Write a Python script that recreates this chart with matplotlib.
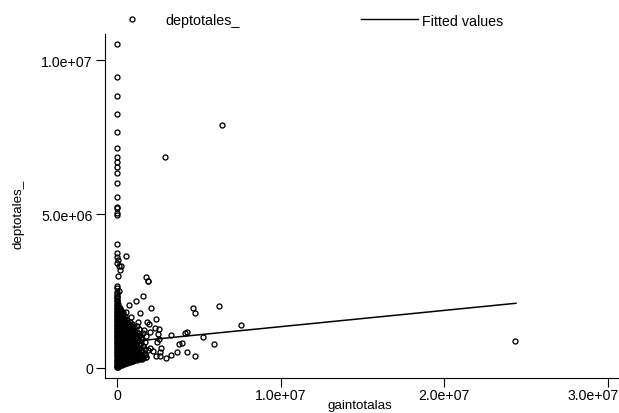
import numpy as np
import matplotlib
matplotlib.use("Agg")
import matplotlib.pyplot as plt
from matplotlib.lines import Line2D
from matplotlib.transforms import ScaledTranslation

plt.rcParams['font.family'] = ['Liberation Sans', 'DejaVu Sans']

# ---------------- data (values in millions) ----------------
cloud_x = (
    [0.01, 0.0, 0.02, 0.01, 0.0, 0.02, 0.01, 0.0, 0.02, 0.01, 0.0, 0.02,
     0.01, 0.0, 0.02, 0.01, 0.0, 0.02, 0.01, 0.0, 0.02, 0.01, 0.0, 0.02,
     0.01, 0.0, 0.02, 0.01, 0.0, 0.02, 0.01, 0.0, 0.02, 0.01, 0.0, 0.02,
     0.01, 0.0, 0.02, 0.01, 0.0, 0.02, 0.01, 0.0, 0.02, 0.01, 0.0, 0.02]
    + [0.05, 0.06, 0.05, 0.06, 0.05, 0.06, 0.05, 0.06, 0.05, 0.06, 0.05, 0.06, 0.05,
       0.06, 0.05, 0.06, 0.05, 0.06, 0.05, 0.06, 0.05, 0.06, 0.05, 0.06, 0.05]
    + [0.09, 0.11, 0.09, 0.11, 0.09, 0.11, 0.09, 0.11, 0.09, 0.11, 0.09, 0.11, 0.09,
       0.11, 0.09, 0.11, 0.09, 0.11, 0.09, 0.11, 0.09, 0.11, 0.09, 0.11, 0.09]
    + [0.15, 0.17, 0.15, 0.17, 0.15, 0.17, 0.15, 0.17, 0.15, 0.17, 0.15,
       0.17, 0.15, 0.17, 0.15, 0.17, 0.15, 0.17, 0.15, 0.17, 0.15, 0.17]
    + [0.21, 0.24, 0.21, 0.24, 0.21, 0.24, 0.21, 0.24, 0.21, 0.24, 0.21, 0.24,
       0.21, 0.24, 0.21, 0.24, 0.21, 0.24, 0.21, 0.24, 0.21, 0.24, 0.21]
    + [0.28, 0.3, 0.28, 0.3, 0.28, 0.3, 0.28, 0.3, 0.28, 0.3,
       0.28, 0.3, 0.28, 0.3, 0.28, 0.3, 0.28, 0.3, 0.28, 0.3]
    + [0.34, 0.37, 0.34, 0.37, 0.34, 0.37, 0.34, 0.37, 0.34, 0.37, 0.34,
       0.37, 0.34, 0.37, 0.34, 0.37, 0.34, 0.37, 0.34, 0.37, 0.34]
    + [0.41, 0.43, 0.41, 0.43, 0.41, 0.43, 0.41, 0.43, 0.41,
       0.43, 0.41, 0.43, 0.41, 0.43, 0.41, 0.43, 0.41]
    + [0.47, 0.5, 0.47, 0.5, 0.47, 0.5, 0.47, 0.5, 0.47, 0.5, 0.47, 0.5,
       0.47, 0.5, 0.47, 0.5, 0.47, 0.5, 0.47]
    + [0.54, 0.57, 0.54, 0.57, 0.54, 0.57, 0.54, 0.57, 0.54, 0.57, 0.54,
       0.57, 0.54, 0.57, 0.54]
    + [0.61, 0.64, 0.61, 0.64, 0.61, 0.64, 0.61, 0.64, 0.61, 0.64, 0.61,
       0.64, 0.61, 0.64, 0.61, 0.64, 0.61]
    + [0.68, 0.71, 0.68, 0.71, 0.68, 0.71, 0.68, 0.71, 0.68, 0.71, 0.68,
       0.71, 0.68, 0.71]
    + [0.75, 0.78, 0.75, 0.78, 0.75, 0.78, 0.75, 0.78, 0.75, 0.78, 0.75,
       0.78, 0.75, 0.78, 0.75, 0.78]
    + [0.82, 0.85, 0.82, 0.85, 0.82, 0.85, 0.82, 0.85, 0.82, 0.85, 0.82, 0.85]
    + [0.89, 0.92, 0.89, 0.92, 0.89, 0.92, 0.89, 0.92, 0.89, 0.92, 0.89,
       0.92, 0.89, 0.92, 0.89]
    + [0.96, 0.98, 0.96, 0.98, 0.96, 0.98, 0.96, 0.98, 0.96]
    + [1.03, 1.07, 1.03, 1.07, 1.03, 1.07, 1.03, 1.07, 1.03, 1.07, 1.03, 1.07, 1.03]
    + [1.18, 1.22, 1.18, 1.22, 1.18, 1.22, 1.18, 1.22]
    + [1.36, 1.4, 1.36, 1.4, 1.36, 1.4, 1.36]
    + [1.55, 1.52, 1.57, 1.53, 1.56]
    + [0.0, 0.05, 0.12, 0.2, 0.3, 0.45, 0.6, 0.8, 1.0, 1.2, 1.4, 1.6, 1.8]
)
cloud_y = (
    [0.03, 0.07, 0.12, 0.17, 0.22, 0.27, 0.32, 0.37, 0.42, 0.47, 0.52, 0.57,
     0.62, 0.67, 0.71, 0.76, 0.8, 0.85, 0.9, 0.94, 0.99, 1.03, 1.08, 1.12,
     1.17, 1.21, 1.26, 1.3, 1.35, 1.4, 1.44, 1.49, 1.53, 1.58, 1.62, 1.67,
     1.72, 1.76, 1.81, 1.85, 1.9, 1.95, 2.0, 2.05, 2.1, 2.16, 2.22, 2.28]
    + [0.06, 0.13, 0.22, 0.3, 0.37, 0.46, 0.53, 0.61, 0.69, 0.77, 0.85, 0.93, 1.0,
       1.09, 1.16, 1.25, 1.32, 1.41, 1.48, 1.57, 1.64, 1.73, 1.81, 1.9, 1.98]
    + [0.1, 0.17, 0.27, 0.33, 0.43, 0.49, 0.59, 0.65, 0.75, 0.81, 0.91, 0.97, 1.07,
       1.13, 1.23, 1.29, 1.39, 1.45, 1.55, 1.61, 1.71, 1.77, 1.88, 1.95, 2.06]
    + [0.11, 0.2, 0.28, 0.37, 0.45, 0.53, 0.61, 0.7, 0.78, 0.86, 0.94,
       1.03, 1.11, 1.19, 1.28, 1.36, 1.44, 1.53, 1.61, 1.7, 1.8, 1.9]
    + [0.12, 0.21, 0.29, 0.38, 0.45, 0.54, 0.62, 0.7, 0.78, 0.86, 0.95, 1.02,
       1.11, 1.18, 1.27, 1.34, 1.43, 1.5, 1.59, 1.67, 1.75, 1.84, 1.93]
    + [0.13, 0.22, 0.3, 0.39, 0.47, 0.56, 0.64, 0.73, 0.81, 0.9,
       0.98, 1.07, 1.15, 1.24, 1.32, 1.41, 1.5, 1.59, 1.68, 1.78]
    + [0.14, 0.23, 0.31, 0.39, 0.48, 0.56, 0.64, 0.73, 0.8, 0.89, 0.97,
       1.05, 1.14, 1.21, 1.3, 1.38, 1.46, 1.55, 1.63, 1.72, 1.82]
    + [0.15, 0.24, 0.33, 0.41, 0.5, 0.59, 0.67, 0.76, 0.85,
       0.93, 1.02, 1.11, 1.2, 1.28, 1.37, 1.46, 1.56]
    + [0.16, 0.25, 0.33, 0.42, 0.5, 0.58, 0.67, 0.75, 0.84, 0.92, 1.0, 1.09,
       1.17, 1.25, 1.34, 1.42, 1.5, 1.59, 1.68]
    + [0.17, 0.26, 0.35, 0.44, 0.52, 0.61, 0.7, 0.79, 0.88, 0.97, 1.05,
       1.14, 1.23, 1.32, 1.42]
    + [0.18, 0.27, 0.36, 0.44, 0.53, 0.61, 0.7, 0.78, 0.87, 0.95, 1.04,
       1.12, 1.21, 1.29, 1.38, 1.47, 1.56]
    + [0.19, 0.28, 0.37, 0.46, 0.55, 0.64, 0.73, 0.82, 0.91, 1.0, 1.09,
       1.18, 1.28, 1.38]
    + [0.2, 0.29, 0.38, 0.47, 0.55, 0.64, 0.72, 0.81, 0.9, 0.98, 1.07,
       1.15, 1.24, 1.32, 1.41, 1.48]
    + [0.22, 0.31, 0.4, 0.49, 0.58, 0.68, 0.77, 0.86, 0.95, 1.04, 1.14, 1.24]
    + [0.23, 0.32, 0.41, 0.49, 0.58, 0.67, 0.76, 0.84, 0.93, 1.02, 1.1,
       1.19, 1.28, 1.36, 1.43]
    + [0.25, 0.36, 0.47, 0.58, 0.7, 0.82, 0.94, 1.08, 1.2]
    + [0.26, 0.35, 0.44, 0.53, 0.62, 0.71, 0.8, 0.88, 0.97, 1.06, 1.15, 1.24, 1.33]
    + [0.29, 0.4, 0.51, 0.64, 0.76, 0.88, 1.01, 1.16]
    + [0.32, 0.45, 0.58, 0.73, 0.9, 1.08, 1.25]
    + [0.36, 0.53, 0.7, 0.93, 1.13]
    + [0.02, 0.04, 0.06, 0.08, 0.09, 0.12, 0.15, 0.18, 0.22, 0.25, 0.28, 0.31, 0.35]
)

# second layer of the dense cloud, between the columns above
cloud2_x = ([0.13] * 0 + [0.13, 0.13, 0.13, 0.13, 0.13, 0.13, 0.13, 0.13, 0.13, 0.13, 0.13, 0.13]
            + [0.26, 0.26, 0.26, 0.26, 0.26, 0.26, 0.26, 0.26, 0.26, 0.26, 0.26]
            + [0.39, 0.39, 0.39, 0.39, 0.39, 0.39, 0.39, 0.39, 0.39, 0.39]
            + [0.52, 0.52, 0.52, 0.52, 0.52, 0.52, 0.52, 0.52, 0.52]
            + [0.66, 0.66, 0.66, 0.66, 0.66, 0.66, 0.66, 0.66]
            + [0.8, 0.8, 0.8, 0.8, 0.8, 0.8, 0.8]
            + [0.94, 0.94, 0.94, 0.94, 0.94, 0.94]
            + [1.12, 1.12, 1.12, 1.12, 1.12, 1.12]
            + [1.28, 1.28, 1.28, 1.28, 1.28]
            + [1.46, 1.46, 1.46, 1.46]
            + [1.7, 1.7, 1.7])
cloud2_y = ([0.15, 0.26, 0.41, 0.52, 0.66, 0.79, 0.92, 1.06, 1.19, 1.33, 1.5, 1.68]
            + [0.18, 0.3, 0.44, 0.57, 0.7, 0.84, 0.97, 1.1, 1.24, 1.38, 1.55]
            + [0.2, 0.32, 0.46, 0.6, 0.73, 0.86, 1.0, 1.14, 1.27, 1.42]
            + [0.22, 0.35, 0.49, 0.63, 0.76, 0.9, 1.03, 1.17, 1.32]
            + [0.25, 0.38, 0.52, 0.66, 0.79, 0.93, 1.07, 1.22]
            + [0.27, 0.4, 0.55, 0.69, 0.83, 0.97, 1.12]
            + [0.3, 0.44, 0.58, 0.72, 0.86, 1.01]
            + [0.33, 0.47, 0.61, 0.77, 0.94, 1.1]
            + [0.36, 0.5, 0.68, 0.86, 1.04]
            + [0.4, 0.58, 0.8, 1.0]
            + [0.42, 0.6, 0.85])

# individually visible points
sparse_x = [0.0, 0.0, 0.0, 0.0, 0.0, 0.0, 0.0, 0.0, 0.0, 0.0, 0.0,
            0.0, 0.0, 0.0, 0.0, 0.0, 0.0, 0.02, 0.0, 0.05, 0.0, 0.12,
            0.2, 0.05, 0.0, 0.1, 0.0, 0.0, 0.0,
            6.45, 2.95, 0.58, 0.22, 1.78, 1.88,
            0.0, 0.0, 1.6, 1.92, 1.16, 0.75, 0.53, 0.17, 1.41, 2.06,
            0.83, 2.36, 0.28, 1.3, 1.86, 1.98, 1.21, 2.59, 2.53, 2.02,
            2.32, 3.32, 4.16, 4.3, 2.57, 2.43, 3.78, 3.98, 2.02, 2.18,
            1.92, 2.71, 2.63, 3.66, 4.3, 3.32, 2.97, 2.63, 2.36, 1.78,
            1.51, 1.1, 4.77, 6.23, 4.63, 4.77, 7.56, 5.24, 5.95, 24.36,
            1.7, 1.62, 1.45, 1.78, 1.66]
sparse_y = [10.52, 9.45, 8.83, 8.27, 7.68, 7.14, 6.86, 6.7, 6.54, 6.32, 6.0,
            5.54, 5.24, 5.19, 5.03, 4.97, 4.02, 3.73, 3.62, 3.51, 3.4, 3.3,
            3.19, 3.0, 2.65, 2.5, 2.4, 2.45, 2.35,
            7.9, 6.86, 3.65, 3.3, 2.95, 2.81,
            2.61, 2.29, 2.34, 2.83, 2.16, 2.04, 1.8, 1.82, 1.77, 1.93,
            1.65, 1.6, 1.52, 1.49, 1.49, 1.41, 1.36, 1.25, 1.11, 1.15,
            1.28, 1.06, 1.12, 1.18, 0.93, 0.84, 0.79, 0.81, 0.66, 0.55,
            0.58, 0.66, 0.51, 0.53, 0.5, 0.41, 0.32, 0.38, 0.37, 0.36,
            0.28, 0.3, 0.38, 2.0, 1.93, 1.77, 1.39, 1.0, 0.76, 0.87,
            0.45, 0.7, 0.95, 1.05, 1.22]

# fitted regression line (endpoints, millions)
fit_x = [0.0, 24.4]
fit_y = [0.81, 2.10]

x_ticks = [0, 1e7, 2e7, 3e7]
x_ticklabels = ["0", "1.0e+07", "2.0e+07", "3.0e+07"]
y_ticks = [0, 5e6, 1e7]
y_ticklabels = ["0", "5.0e+06", "1.0e+07"]

assert len(cloud_x) == len(cloud_y)
assert len(cloud2_x) == len(cloud2_y)
assert len(sparse_x) == len(sparse_y)

MILLION = 1e6

# ---------------- figure ----------------
W, H = 619, 414
fig = plt.figure(figsize=(W / 100, H / 100), dpi=100)
ax_left, ax_bottom_px, ax_top_px = 105, 379, 35
ax = fig.add_axes([ax_left / W, (H - ax_bottom_px) / H, (W - ax_left) / W,
                   (ax_bottom_px - ax_top_px) / H])

px = np.array(cloud_x + cloud2_x + sparse_x) * MILLION
py = np.array(cloud_y + cloud2_y + sparse_y) * MILLION
ax.plot(px, py, linestyle='none', marker='o', ms=3.6, mfc='none',
        mec='black', mew=0.95, clip_on=False)
ax.plot(np.array(fit_x) * MILLION, np.array(fit_y) * MILLION, color='black', lw=1.1)

ax.set_xlim(-0.734e6, 30.70e6)
ax.set_ylim(-0.33e6, 10.855e6)

for s in ['top', 'right']:
    ax.spines[s].set_visible(False)
for s in ['left', 'bottom']:
    ax.spines[s].set_linewidth(0.8)

ax.set_xticks(x_ticks, x_ticklabels)
ax.set_yticks(y_ticks, y_ticklabels)
ax.tick_params(axis='both', direction='out', length=6.2, width=0.8,
               labelsize=10.2, colors='black')
ax.tick_params(axis='y', pad=2.6)
ax.tick_params(axis='x', pad=1.0)

# keep the last x tick label inside the picture, as in the reference
last = ax.get_xticklabels()[-1]
last.set_ha('right')
last.set_transform(last.get_transform() + ScaledTranslation(0.115, 0, fig.dpi_scale_trans))

ax.set_xlabel("gaintotalas", fontsize=9.6)
ax.xaxis.set_label_coords((360 - ax_left) / (W - ax_left),
                          (ax_bottom_px - 400) / (ax_bottom_px - ax_top_px))
ax.set_ylabel("deptotales_", fontsize=9.6)
ax.yaxis.set_label_coords((25 - ax_left) / (W - ax_left), 0.48)

handles = [Line2D([], [], linestyle='none', marker='o', ms=3.6, mfc='none',
                  mec='black', mew=0.95),
           Line2D([], [], color='black', lw=1.0)]
fig.legend(handles, ["deptotales_", "Fitted values"], ncol=2, frameon=False,
           loc='center left', bbox_to_anchor=(103.5 / W, 1 - 21.5 / H),
           borderpad=0, borderaxespad=0, handlelength=4.0,
           handletextpad=0.3, columnspacing=8.5, fontsize=10.3)

fig.savefig("out.png", dpi=100)
